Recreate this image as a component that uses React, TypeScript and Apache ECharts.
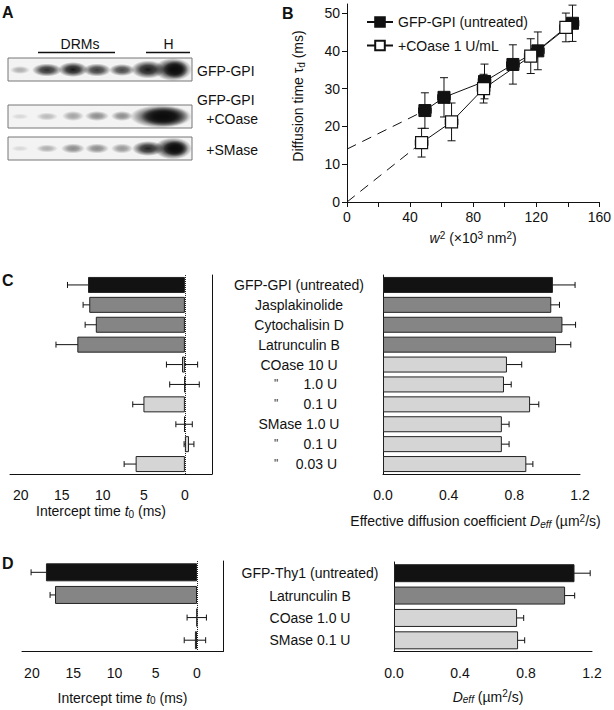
import React, { useEffect, useRef } from 'react';
import * as echarts from 'echarts';

const FONT = '"Liberation Sans", Arial, Helvetica, sans-serif';
const INK = '#111';

// ---- Panel B data ----
const bUntreatedW2 = [49.4, 61.5, 87.2, 105.2, 121, 143];
const bUntreatedTau = [24.2, 27.7, 31.9, 36.4, 40.0, 47.3];
const bUntreatedErr = [4.7, 5.2, 4.6, 5.2, 5.0, 4.8];
const bUntreatedXErr = [4, 4, 4, 4, 4, 4];
const bUntreatedIntercept = 14;
const bCoaseW2 = [47.3, 66.3, 86.6, 116.5, 138.8];
const bCoaseTau = [15.7, 21.2, 30.0, 38.6, 46.2];
const bCoaseErr = [3.8, 5.0, 3.8, 4.6, 3.8];
const bCoaseXErr = [4, 4, 4, 4, 4];
const bCoaseIntercept = 0;
const bXTicks = [0, 20, 40, 60, 80, 100, 120, 140, 160];
const bXLabels = [0, 40, 80, 120, 160];
const bYTicks = [0, 10, 20, 30, 40, 50];

// ---- Panel C data ----
const cLabels = ['GFP-GPI (untreated)', 'Jasplakinolide', 'Cytochalisin D', 'Latrunculin B', 'COase 10 U', '" 1.0 U', '" 0.1 U', 'SMase 1.0 U', '" 0.1 U', '" 0.03 U'];
const cShade = ['black', 'dark', 'dark', 'dark', 'light', 'light', 'light', 'light', 'light', 'light'];
const cIntercept = [11.8, 11.65, 10.85, 13.1, 0.35, 0.05, 5.05, 0.1, -0.5, 6.0];
const cInterceptErr = [2.5, 0.75, 1.3, 2.6, 1.9, 1.8, 1.3, 1.0, 0.6, 1.4];
const cDeff = [1.035, 1.025, 1.093, 1.054, 0.755, 0.737, 0.896, 0.724, 0.724, 0.873];
const cDeffErr = [0.135, 0.05, 0.08, 0.09, 0.09, 0.044, 0.053, 0.044, 0.044, 0.04];

// ---- Panel D data ----
const dLabels = ['GFP-Thy1 (untreated)', 'Latrunculin B', 'COase 1.0 U', 'SMase 0.1 U'];
const dShade = ['black', 'dark', 'light', 'light'];
const dIntercept = [18.3, 17.2, 0.03, 0.25];
const dInterceptErr = [1.8, 0.6, 1.17, 1.3];
const dDeff = [1.094, 1.037, 0.746, 0.752];
const dDeffErr = [0.095, 0.058, 0.04, 0.04];

const interceptTicks = [0, 5, 10, 15, 20];
const deffTicks = [0, 0.2, 0.4, 0.6, 0.8, 1.0, 1.2];
const deffLabels = [0, 0.4, 0.8, 1.2];

const SHADES: Record<string, string> = { black: '#121212', dark: '#858585', light: '#d5d5d5' };

const richBase = {
  a: { fontSize: 14, fontFamily: FONT, color: INK },
  i: { fontSize: 14, fontFamily: FONT, color: INK, fontStyle: 'italic' },
  s: { fontSize: 10, fontFamily: FONT, color: INK, padding: [6, 0, 0, 0] },
  si: { fontSize: 10, fontFamily: FONT, color: INK, fontStyle: 'italic', padding: [6, 0, 0, 0] },
  sup: { fontSize: 10, fontFamily: FONT, color: INK, padding: [0, 0, 6, 0] },
};

const axisLineStyle = { show: true, onZero: false, lineStyle: { color: INK, width: 1 } };
const tickLabel = { color: INK, fontSize: 14, fontFamily: FONT };

function barData(vals: number[], shades: string[]) {
  return vals.map((v, i) => ({
    value: v,
    itemStyle: { color: SHADES[shades[i]], borderColor: '#222', borderWidth: 1 },
  }));
}

function hErrRender(cap: number) {
  return (params: any, api: any) => {
    const v = api.value(0);
    const idx = api.value(1);
    const e = api.value(2);
    const l = api.coord([v - e, idx]);
    const r = api.coord([v + e, idx]);
    const style = { stroke: INK, lineWidth: 1 };
    return {
      type: 'group',
      children: [
        { type: 'line', shape: { x1: l[0], y1: l[1], x2: r[0], y2: r[1] }, style },
        { type: 'line', shape: { x1: l[0], y1: l[1] - cap, x2: l[0], y2: l[1] + cap }, style },
        { type: 'line', shape: { x1: r[0], y1: r[1] - cap, x2: r[0], y2: r[1] + cap }, style },
      ],
    };
  };
}

function bErrRender(params: any, api: any) {
  const x = api.value(0);
  const y = api.value(1);
  const ey = api.value(2);
  const ex = api.value(3);
  const top = api.coord([x, y + ey]);
  const bot = api.coord([x, y - ey]);
  const l = api.coord([x - ex, y]);
  const r = api.coord([x + ex, y]);
  const cap = 4;
  const style = { stroke: INK, lineWidth: 1 };
  return {
    type: 'group',
    children: [
      { type: 'line', shape: { x1: top[0], y1: top[1], x2: bot[0], y2: bot[1] }, style },
      { type: 'line', shape: { x1: top[0] - cap, y1: top[1], x2: top[0] + cap, y2: top[1] }, style },
      { type: 'line', shape: { x1: bot[0] - cap, y1: bot[1], x2: bot[0] + cap, y2: bot[1] }, style },
      { type: 'line', shape: { x1: l[0], y1: l[1], x2: r[0], y2: r[1] }, style },
      { type: 'line', shape: { x1: l[0], y1: l[1] - 3, x2: l[0], y2: l[1] + 3 }, style },
      { type: 'line', shape: { x1: r[0], y1: r[1] - 3, x2: r[0], y2: r[1] + 3 }, style },
    ],
  };
}

function midLabel(width: number) {
  const p1 = Math.round(width * 0.31);
  const dq = 10;
  const p2 = Math.round(width * 0.215);
  const v = width - p1 - dq - p2;
  return {
    interval: 0,
    color: INK,
    formatter: (val: string) =>
      val.startsWith('"')
        ? `{p1| }{dq|"}{v|${val.slice(1).trim()}}{p2| }`
        : `{c|${val}}`,
    rich: {
      c: { width, align: 'center', fontSize: 14, fontFamily: FONT, color: INK },
      p1: { width: p1, align: 'left', fontSize: 14, color: INK },
      dq: { width: dq, align: 'left', fontSize: 12, fontFamily: FONT, color: '#333' },
      v: { width: v, align: 'right', fontSize: 14, fontFamily: FONT, color: INK },
      p2: { width: p2, align: 'right', fontSize: 14, color: INK },
    },
  };
}

// gel band helper (style only)
function band(cx: number, cy: number, rx: number, ry: number, a: number) {
  return {
    type: 'ellipse',
    shape: { cx, cy, rx, ry },
    style: {
      fill: new echarts.graphic.RadialGradient(0.5, 0.5, 0.5, [
        { offset: 0, color: `rgba(12,12,12,${a})` },
        { offset: 0.45, color: `rgba(12,12,12,${a * 0.8})` },
        { offset: 1, color: 'rgba(12,12,12,0)' },
      ]),
    },
  };
}

function strip(y: number) {
  return {
    type: 'rect',
    shape: { x: 8, y, width: 184, height: 23 },
    style: { fill: '#f3f3f3', stroke: '#777', lineWidth: 1 },
  };
}

const gelElements: any[] = [
  strip(58),
  band(20, 70, 10, 4, 0.3),
  band(47, 70, 15, 6.5, 0.85),
  band(73, 69.5, 15, 7.5, 0.95),
  band(97, 70, 14, 6.5, 0.8),
  band(122, 70, 13, 6, 0.75),
  band(148, 69.5, 17, 9, 0.95),
  band(173, 69.5, 19, 11.5, 1),
  band(176, 69.5, 12, 9, 1),
  strip(105),
  band(20, 116.5, 9, 3, 0.12),
  band(47, 116.5, 11, 4, 0.25),
  band(73, 116, 11, 5, 0.35),
  band(97, 116, 12, 5, 0.45),
  band(122, 116, 11, 5, 0.45),
  band(161, 116.5, 31, 11.5, 1),
  band(165, 116.5, 24, 10, 1),
  strip(137),
  band(20, 148.5, 9, 3, 0.12),
  band(47, 148.5, 11, 4, 0.3),
  band(73, 148.5, 12, 5, 0.45),
  band(97, 148.5, 12, 5, 0.45),
  band(122, 148.5, 11, 5, 0.4),
  band(148, 148.5, 16, 7.5, 0.9),
  band(173, 148.5, 19, 11, 1),
  band(176, 148.5, 12, 8, 1),
  { type: 'line', shape: { x1: 38, y1: 52.5, x2: 115, y2: 52.5 }, style: { stroke: INK, lineWidth: 1.5 } },
  { type: 'line', shape: { x1: 146, y1: 52.5, x2: 190, y2: 52.5 }, style: { stroke: INK, lineWidth: 1.5 } },
];

function txt(text: string, x: number, y: number, align = 'left', bold = false, size = 14) {
  return {
    type: 'text',
    x,
    y,
    style: {
      text,
      fill: INK,
      fontFamily: FONT,
      fontSize: size,
      fontWeight: bold ? 'bold' : 'normal',
      textAlign: align,
      textVerticalAlign: 'middle',
    },
  };
}

const textElements: any[] = [
  txt('A', 2, 12, 'left', true, 16),
  txt('B', 282, 13, 'left', true, 16),
  txt('C', 2, 280, 'left', true, 16),
  txt('D', 2, 563, 'left', true, 16),
  txt('DRMs', 80, 44, 'center'),
  txt('H', 168.5, 44, 'center'),
  txt('GFP-GPI', 197, 71),
  txt('GFP-GPI', 197, 100),
  txt('+COase', 258, 119, 'right'),
  txt('+SMase', 258, 150, 'right'),
];

function App() {
  const ref = useRef<HTMLDivElement>(null);
  useEffect(() => {
    document.body.style.margin = '0';
    const chart = echarts.init(ref.current!, null, { renderer: 'svg', width: 614, height: 710 });

    const bErrData = [
      ...bUntreatedW2.map((x, i) => [x, bUntreatedTau[i], bUntreatedErr[i], bUntreatedXErr[i]]),
      ...bCoaseW2.map((x, i) => [x, bCoaseTau[i], bCoaseErr[i], bCoaseXErr[i]]),
    ];

    const zeroLine = {
      silent: true,
      symbol: 'none',
      label: { show: false },
      lineStyle: { type: 'dotted', color: '#222', width: 1 },
      data: [{ xAxis: 0 }],
    };

    const option: any = {
      animation: false,
      textStyle: { fontFamily: FONT, color: INK },
      graphic: { elements: [...gelElements, ...textElements] },
      legend: {
        data: ['GFP-GPI (untreated)', '+COase 1 U/mL'],
        orient: 'vertical',
        left: 366,
        top: 15,
        padding: 0,
        itemWidth: 26,
        itemHeight: 12,
        itemGap: 9.5,
        textStyle: { fontSize: 14, fontFamily: FONT, color: INK },
      },
      grid: [
        { left: 347, right: 12, top: 4, bottom: 508 },
        { left: 10, right: 402, top: 275, bottom: 236 },
        { left: 383, right: 34, top: 275, bottom: 236 },
        { left: 22, right: 391, top: 561, bottom: 58.5 },
        { left: 394, right: 22, top: 562, bottom: 58.5 },
      ],
      xAxis: [
        {
          gridIndex: 0, type: 'value', min: 0, max: 160,
          axisLine: axisLineStyle,
          axisTick: { customValues: bXTicks, length: 5, lineStyle: { color: INK } },
          axisLabel: { ...tickLabel, customValues: bXLabels, margin: 8 },
          splitLine: { show: false },
          name: '{i|w}{sup|2}{a| (×10}{sup|3}{a| nm}{sup|2}{a|)}',
          nameLocation: 'middle', nameGap: 28,
          nameTextStyle: { rich: richBase },
        },
        {
          gridIndex: 1, type: 'value', min: -3.3, max: 21.3, inverse: true,
          axisLine: axisLineStyle,
          axisTick: { customValues: interceptTicks, length: 5, lineStyle: { color: INK } },
          axisLabel: { ...tickLabel, customValues: interceptTicks, margin: 14 },
          splitLine: { show: false },
          name: '{a|Intercept time }{i|t}{s|0}{a| (ms)}',
          nameLocation: 'middle', nameGap: 29,
          nameTextStyle: { rich: richBase, padding: [0, 20, 0, 0] },
        },
        {
          gridIndex: 2, type: 'value', min: 0, max: 1.2,
          axisLine: axisLineStyle,
          axisTick: { customValues: deffTicks, length: 5, lineStyle: { color: INK } },
          axisLabel: { ...tickLabel, customValues: deffLabels, margin: 14, formatter: (v: number) => v.toFixed(1) },
          splitLine: { show: false },
          name: '{a|Effective diffusion coefficient }{i|D}{si|eff}{a| (µm}{sup|2}{a|/s)}',
          nameLocation: 'middle', nameGap: 39,
          nameTextStyle: { rich: richBase, padding: [0, 12, 0, 0] },
        },
        {
          gridIndex: 3, type: 'value', min: -3.15, max: 21.2, inverse: true,
          axisLine: axisLineStyle,
          axisTick: { customValues: interceptTicks, length: 5, lineStyle: { color: INK } },
          axisLabel: { ...tickLabel, customValues: interceptTicks, margin: 14 },
          splitLine: { show: false },
          name: '{a|Intercept time }{i|t}{s|0}{a| (ms)}',
          nameLocation: 'middle', nameGap: 38,
          nameTextStyle: { rich: richBase },
        },
        {
          gridIndex: 4, type: 'value', min: 0, max: 1.2,
          axisLine: axisLineStyle,
          axisTick: { customValues: deffTicks, length: 5, lineStyle: { color: INK } },
          axisLabel: { ...tickLabel, customValues: deffLabels, margin: 14, formatter: (v: number) => v.toFixed(1) },
          splitLine: { show: false },
          name: '{i|D}{si|eff}{a| (µm}{sup|2}{a|/s)}',
          nameLocation: 'middle', nameGap: 37,
          nameTextStyle: { rich: richBase, padding: [0, 10, 0, 0] },
        },
      ],
      yAxis: [
        {
          gridIndex: 0, type: 'value', min: 0, max: 52.4,
          axisLine: axisLineStyle,
          axisTick: { customValues: bYTicks, length: 5, lineStyle: { color: INK } },
          axisLabel: { ...tickLabel, customValues: bYTicks, margin: 7 },
          splitLine: { show: false },
          name: '{a|Diffusion time τ}{s|d}{a| (ms)}',
          nameLocation: 'middle', nameGap: 41,
          nameTextStyle: { rich: richBase, padding: [0, 0, 0, 14] },
        },
        {
          gridIndex: 1, type: 'category', data: cLabels, inverse: true, position: 'right',
          axisLine: axisLineStyle,
          axisTick: { length: 9, lineStyle: { color: INK } },
          axisLabel: { show: false },
        },
        {
          gridIndex: 2, type: 'category', data: cLabels, inverse: true, position: 'left',
          axisLine: axisLineStyle,
          axisTick: { length: 9, lineStyle: { color: INK } },
          axisLabel: { ...midLabel(134), margin: 17 },
        },
        {
          gridIndex: 3, type: 'category', data: dLabels, inverse: true, position: 'right',
          axisLine: axisLineStyle,
          axisTick: { length: 9, lineStyle: { color: INK } },
          axisLabel: { show: false },
        },
        {
          gridIndex: 4, type: 'category', data: dLabels, inverse: true, position: 'left',
          axisLine: axisLineStyle,
          axisTick: { length: 9, lineStyle: { color: INK } },
          axisLabel: { ...midLabel(138), margin: 15 },
        },
      ],
      series: [
        // Panel B
        {
          type: 'line', xAxisIndex: 0, yAxisIndex: 0, symbol: 'none', silent: true,
          lineStyle: { color: INK, width: 1, type: [10, 7] },
          data: [[0, bUntreatedIntercept], [bUntreatedW2[0], bUntreatedTau[0]]],
        },
        {
          type: 'line', xAxisIndex: 0, yAxisIndex: 0, symbol: 'none', silent: true,
          lineStyle: { color: INK, width: 1, type: [10, 7] },
          data: [[0, bCoaseIntercept], [bCoaseW2[0], bCoaseTau[0]]],
        },
        {
          type: 'custom', xAxisIndex: 0, yAxisIndex: 0, renderItem: bErrRender,
          encode: { x: 0, y: 1 }, data: bErrData, silent: true,
        },
        {
          name: 'GFP-GPI (untreated)', type: 'line', xAxisIndex: 0, yAxisIndex: 0,
          symbol: 'rect', symbolSize: 12,
          itemStyle: { color: INK, borderColor: INK, borderWidth: 1 },
          lineStyle: { color: INK, width: 1 },
          data: bUntreatedW2.map((x, i) => [x, bUntreatedTau[i]]),
        },
        {
          name: '+COase 1 U/mL', type: 'line', xAxisIndex: 0, yAxisIndex: 0,
          symbol: 'rect', symbolSize: 12,
          itemStyle: { color: '#fff', borderColor: INK, borderWidth: 1.2 },
          lineStyle: { color: INK, width: 1 },
          data: bCoaseW2.map((x, i) => [x, bCoaseTau[i]]),
        },
        // Panel C left
        {
          type: 'bar', xAxisIndex: 1, yAxisIndex: 1, barWidth: 16,
          data: barData(cIntercept, cShade), markLine: zeroLine,
        },
        {
          type: 'custom', xAxisIndex: 1, yAxisIndex: 1, renderItem: hErrRender(3),
          encode: { x: 0, y: 1 }, data: cIntercept.map((v, i) => [v, i, cInterceptErr[i]]),
        },
        // Panel C right
        {
          type: 'bar', xAxisIndex: 2, yAxisIndex: 2, barWidth: 16,
          data: barData(cDeff, cShade),
        },
        {
          type: 'custom', xAxisIndex: 2, yAxisIndex: 2, renderItem: hErrRender(3),
          encode: { x: 0, y: 1 }, data: cDeff.map((v, i) => [v, i, cDeffErr[i]]),
        },
        // Panel D left
        {
          type: 'bar', xAxisIndex: 3, yAxisIndex: 3, barWidth: 18,
          data: barData(dIntercept, dShade), markLine: zeroLine,
        },
        {
          type: 'custom', xAxisIndex: 3, yAxisIndex: 3, renderItem: hErrRender(3),
          encode: { x: 0, y: 1 }, data: dIntercept.map((v, i) => [v, i, dInterceptErr[i]]),
        },
        // Panel D right
        {
          type: 'bar', xAxisIndex: 4, yAxisIndex: 4, barWidth: 18,
          data: barData(dDeff, dShade),
        },
        {
          type: 'custom', xAxisIndex: 4, yAxisIndex: 4, renderItem: hErrRender(3),
          encode: { x: 0, y: 1 }, data: dDeff.map((v, i) => [v, i, dDeffErr[i]]),
        },
      ],
    };

    chart.setOption(option);
    return () => chart.dispose();
  }, []);
  return <div ref={ref} style={{ width: 614, height: 710 }} />;
}

export default App;
